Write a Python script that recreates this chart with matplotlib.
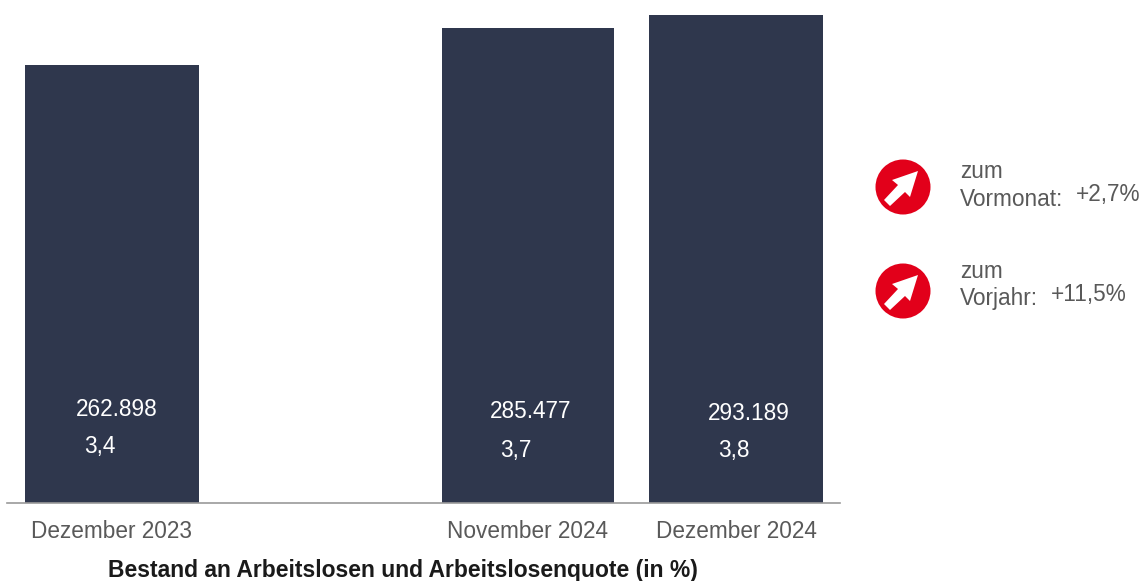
import matplotlib
matplotlib.use("Agg")
from matplotlib import pyplot as plt
from matplotlib.patches import Circle, Polygon

W, H = 1142, 581

months = ["Dezember 2023", "November 2024", "Dezember 2024"]
bestand = [262898, 285477, 293189]
quote = ["3,4", "3,7", "3,8"]

changes = ["Vormonat:", "Vorjahr:"]
change_values = ["+2,7%", "+11,5%"]

# layout in pixels
bar_left = [25, 442, 649]
bar_right = [199, 614, 823]
bestand_xy = [(117, 409), (531, 411), (749, 413)]
quote_xy = [(100, 447), (516, 450), (734, 451)]
icon_y = [187, 291]
zum_y = [172, 272]
name_y = [200, 299]
value_y = [195, 295]
value_x = [1076, 1051]
arrow = [(15, -16), (-11, -7), (-5, -2), (-19, 13), (-13, 19), (2, 5), (7, 10)]

NAVY = "#2f374d"
RED = "#e2001a"
GREY = "#595959"
FS = 16.3

plt.rcParams["font.family"] = "Liberation Sans"

fig = plt.figure(figsize=(W / 100, H / 100), dpi=100)

# bars, axis bottom sits on y=503
ax = fig.add_axes([7 / W, 1 - 503 / H, 833 / W, 503 / H])
ax.set_xlim(7, 840)
ax.set_ylim(0, 302100)
centers = [(l + r) / 2 for l, r in zip(bar_left, bar_right)]
widths = [r - l for l, r in zip(bar_left, bar_right)]
ax.bar(centers, bestand, width=widths, color=NAVY)
for s in ["top", "left", "right"]:
    ax.spines[s].set_visible(False)
ax.spines["bottom"].set_color("#9a9a9a")
ax.spines["bottom"].set_linewidth(1.2)
ax.set_yticks([])
ax.set_xticks(centers, months, fontsize=FS, color=GREY)
ax.tick_params(axis="x", length=0, pad=12)

# overlay in pixel coordinates for labels and icons
ov = fig.add_axes([0, 0, 1, 1], facecolor="none")
ov.set_xlim(0, W)
ov.set_ylim(H, 0)
ov.axis("off")

for v, q, p1, p2 in zip(bestand, quote, bestand_xy, quote_xy):
    ov.text(p1[0], p1[1], f"{v:,}".replace(",", "."), color="white", fontsize=FS,
            ha="center", va="center")
    ov.text(p2[0], p2[1], q, color="white", fontsize=FS, ha="center", va="center")

ov.text(403, 570, "Bestand an Arbeitslosen und Arbeitslosenquote (in %)", color="#1a1a1a",
        fontsize=16.5, fontweight="bold", ha="center", va="center")

for i in range(len(changes)):
    y = icon_y[i]
    ov.add_patch(Circle((903, y), 27.5, color=RED, lw=0))
    ov.add_patch(Polygon([(903 + dx, y + dy) for dx, dy in arrow], closed=True, color="white", lw=0))
    ov.text(960, zum_y[i], "zum", color=GREY, fontsize=FS, ha="left", va="center")
    ov.text(960, name_y[i], changes[i], color=GREY, fontsize=FS, ha="left", va="center")
    ov.text(value_x[i], value_y[i], change_values[i], color=GREY, fontsize=FS, ha="left", va="center")

fig.savefig("out.png", dpi=100)
